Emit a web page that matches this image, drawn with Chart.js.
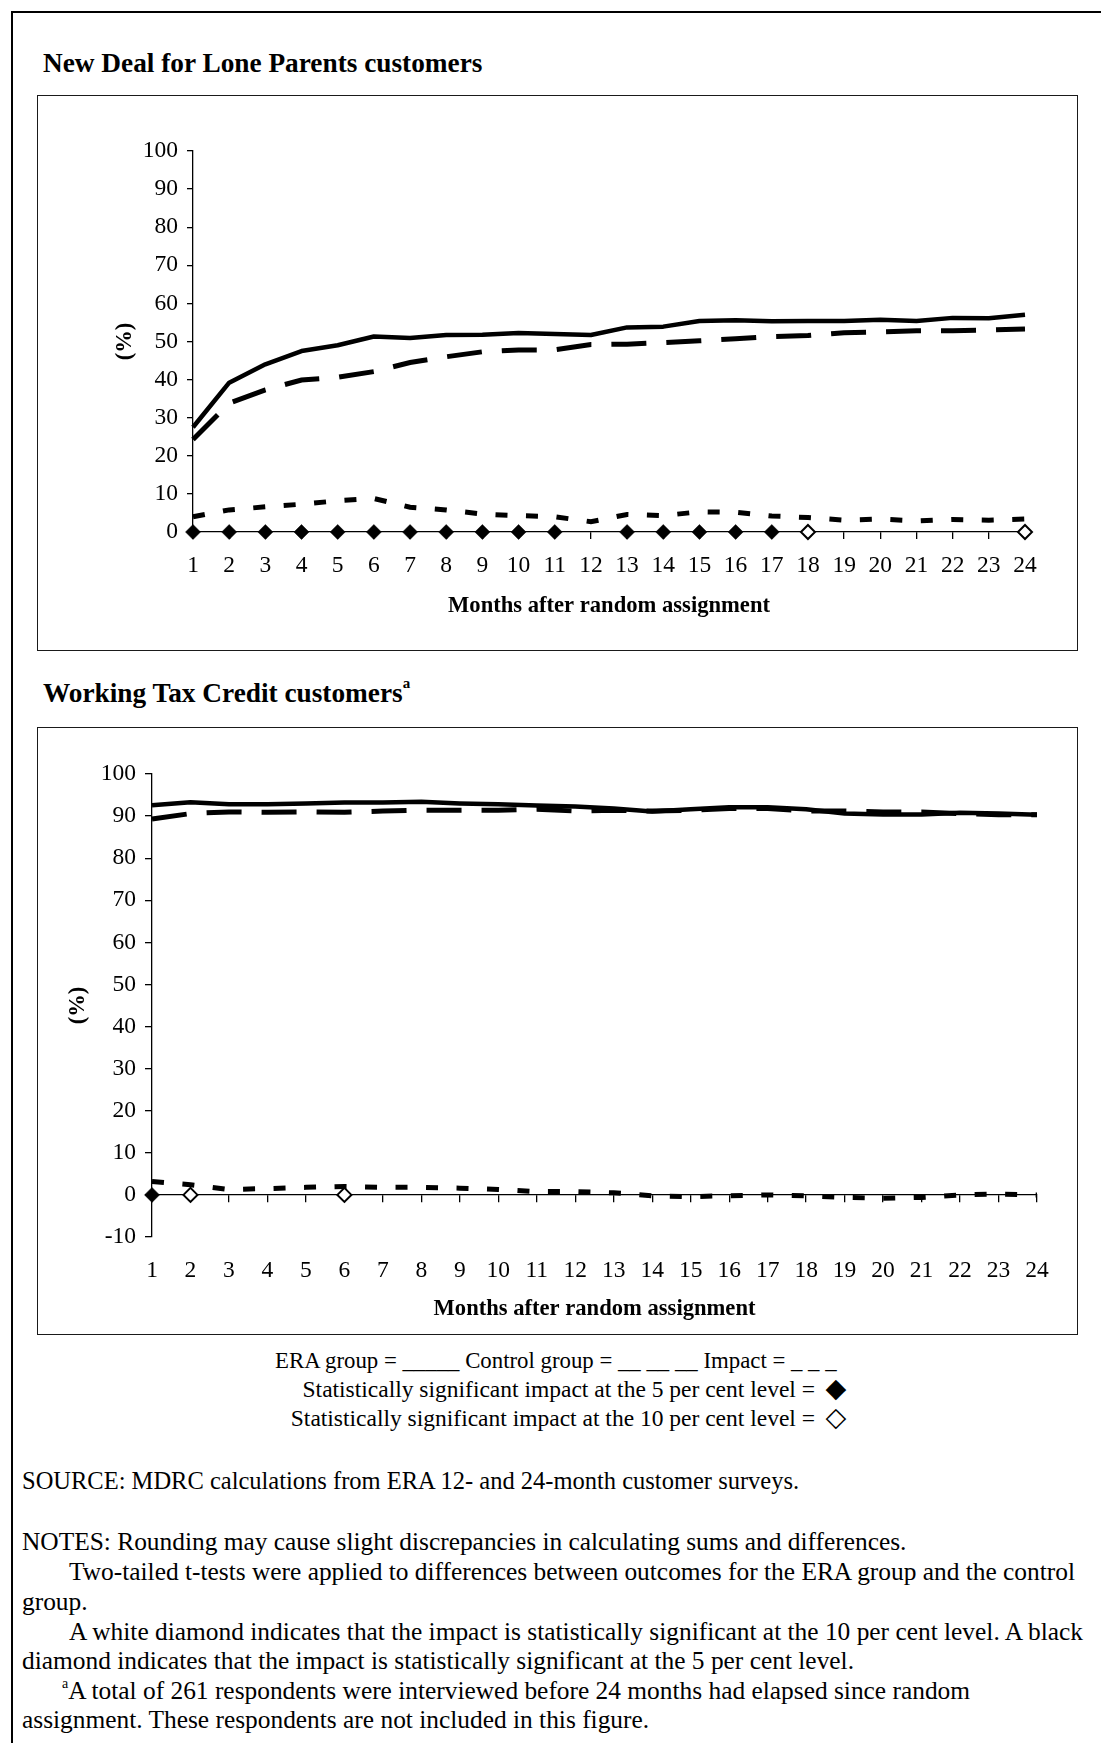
<!DOCTYPE html>
<html>
<head>
<meta charset="utf-8">
<title>ERA employment outcomes</title>
<script src="https://cdn.jsdelivr.net/npm/chart.js@4.4.1/dist/chart.umd.min.js"></script>
<style>
  html, body { margin: 0; padding: 0; background: #fff; }
  body {
    width: 1101px; height: 1743px; position: relative; overflow: hidden;
    font-family: "Liberation Serif", "Times New Roman", serif; color: #000;
  }
  .abs { position: absolute; white-space: nowrap; line-height: 1; }
  #frame { position: absolute; left: 11px; top: 11px; width: 1200px; height: 1900px; border: 2px solid #000; }
  .panel { position: absolute; box-sizing: border-box; border: 1.5px solid #1a1a1a; }
  .title { font-weight: bold; font-size: 27.3px; }
  .title sup { font-size: 15px; position: relative; top: -4px; vertical-align: top; }
  .legend { font-size: 23.5px; }
  .mark { font-family: "DejaVu Sans", sans-serif; font-size: 27px; transform: translateX(-50%); }
  .note { font-size: 25.4px; }
  .note.src { font-size: 24.5px; }
  .note sup { font-size: 14px; vertical-align: top; position: relative; top: -1px; }
  canvas { position: absolute; }
</style>
</head>
<body>
<div id="frame"></div>

<div class="abs title" style="left:43px; top:50px;">New Deal for Lone Parents customers</div>
<div class="panel" style="left:37px; top:95px; width:1041px; height:556px;"></div>
<canvas id="ndlp" width="1037" height="552" style="left:39px; top:97px; width:1037px; height:552px;"></canvas>

<div class="abs title" style="left:43px; top:680px;">Working Tax Credit customers<sup>a</sup></div>
<div class="panel" style="left:37px; top:727px; width:1041px; height:608px;"></div>
<canvas id="wtc" width="1037" height="604" style="left:39px; top:729px; width:1037px; height:604px;"></canvas>

<div class="abs legend" style="left:275px; top:1350px; font-size:22.8px;">ERA group = _____ Control group = __ __ __ Impact = _ _ _</div>
<div class="abs legend" style="right:286px; top:1378px;">Statistically significant impact at the 5 per cent level =</div>
<div class="abs mark" style="left:836px; top:1374px;">&#9670;</div>
<div class="abs legend" style="right:286px; top:1407px;">Statistically significant impact at the 10 per cent level =</div>
<div class="abs mark" style="left:836px; top:1403px;">&#9671;</div>

<div class="abs note src" style="left:22px; top:1469px;">SOURCE: MDRC calculations from ERA 12- and 24-month customer surveys.</div>
<div class="abs note" style="left:22px; top:1529px;">NOTES: Rounding may cause slight discrepancies in calculating sums and differences.</div>
<div class="abs note" style="left:69px; top:1559px;">Two-tailed t-tests were applied to differences between outcomes for the ERA group and the control</div>
<div class="abs note" style="left:22px; top:1589px;">group.</div>
<div class="abs note" style="left:69px; top:1619px;">A white diamond indicates that the impact is statistically significant at the 10 per cent level. A black</div>
<div class="abs note" style="left:22px; top:1648px;">diamond indicates that the impact is statistically significant at the 5 per cent level.</div>
<div class="abs note" style="left:62px; top:1678px;"><sup>a</sup>A total of 261 respondents were interviewed before 24 months had elapsed since random</div>
<div class="abs note" style="left:22px; top:1707px;">assignment. These respondents are not included in this figure.</div>

<script>
// Months after random assignment
const months = ['1','2','3','4','5','6','7','8','9','10','11','12',
                '13','14','15','16','17','18','19','20','21','22','23','24'];

// New Deal for Lone Parents customers (%)
const ndlpEra     = [27.5, 39.2, 44.0, 47.5, 49.0, 51.3, 50.9, 51.7, 51.8, 52.2, 52.0, 51.7,
                     53.7, 53.9, 55.4, 55.6, 55.3, 55.4, 55.4, 55.7, 55.4, 56.2, 56.1, 57.0];
const ndlpControl = [24.3, 33.8, 37.3, 39.9, 40.6, 42.1, 44.5, 46.0, 47.3, 47.8, 47.8, 49.2,
                     49.3, 49.7, 50.2, 50.7, 51.3, 51.6, 52.3, 52.5, 52.8, 52.8, 53.0, 53.3];
const ndlpImpact  = [4.0, 5.8, 6.6, 7.3, 8.2, 8.8, 6.5, 5.8, 4.7, 4.3, 4.0, 2.7,
                     4.6, 4.3, 5.3, 5.2, 4.2, 3.8, 3.1, 3.4, 2.9, 3.3, 3.1, 3.4];
const ndlpSig5Months  = [1, 2, 3, 4, 5, 6, 7, 8, 9, 10, 11, 13, 14, 15, 16, 17];
const ndlpSig10Months = [18, 24];

// Working Tax Credit customers (%)
const wtcEra     = [92.6, 93.3, 92.8, 92.8, 93.0, 93.2, 93.2, 93.4, 93.0, 92.8, 92.5, 92.3,
                    91.8, 91.1, 91.6, 92.1, 92.1, 91.6, 90.6, 90.4, 90.4, 90.8, 90.6, 90.3];
const wtcControl = [89.3, 90.6, 91.0, 90.9, 91.0, 90.9, 91.2, 91.4, 91.4, 91.4, 91.6, 91.2,
                    91.4, 91.2, 91.4, 91.8, 91.8, 91.2, 91.2, 91.0, 91.0, 90.6, 90.3, 90.3];
const wtcImpact  = [3.2, 2.4, 1.3, 1.5, 1.8, 2.0, 1.8, 1.8, 1.6, 1.3, 0.8, 0.8,
                    0.5, -0.2, -0.4, -0.2, 0.0, -0.2, -0.6, -0.8, -0.6, 0.0, 0.2, 0.0];
const wtcSig5Months  = [1];
const wtcSig10Months = [2, 6];

const serif = "'Liberation Serif', 'Times New Roman', serif";
const tickFont  = { family: serif, size: 23.5 };
const titleFont = { family: serif, size: 22.6, weight: 'bold' };

// Significance diamonds sit on the zero line of the impact series
function markers(list) {
  return months.map(m => list.includes(Number(m)) ? 0 : null);
}

function seriesSets(era, control, impact, sig5, sig10) {
  return [
    { label: 'Significant at 5%', data: markers(sig5), showLine: false, clip: false,
      pointStyle: 'rectRot', pointRadius: 7.5, pointBackgroundColor: '#000',
      pointBorderColor: '#000', pointBorderWidth: 0.5 },
    { label: 'Significant at 10%', data: markers(sig10), showLine: false, clip: false,
      pointStyle: 'rectRot', pointRadius: 7, pointBackgroundColor: '#fff',
      pointBorderColor: '#000', pointBorderWidth: 2 },
    { label: 'ERA group', data: era, borderColor: '#000', borderWidth: 4.5,
      borderJoinStyle: 'round', pointRadius: 0, clip: false },
    { label: 'Control group', data: control, borderColor: '#000', borderWidth: 5,
      borderDash: [35, 20], pointRadius: 0, clip: false },
    { label: 'Impact', data: impact, borderColor: '#000', borderWidth: 5,
      borderDash: [12, 18.5], pointRadius: 0, clip: false }
  ];
}

const axisLine = { color: '#000', width: 1.3 };
const commonPlugins = { legend: { display: false }, tooltip: { enabled: false } };

// Panel 1: x axis along the bottom (0 %)
new Chart(document.getElementById('ndlp'), {
  type: 'line',
  data: { labels: months,
          datasets: seriesSets(ndlpEra, ndlpControl, ndlpImpact, ndlpSig5Months, ndlpSig10Months) },
  options: {
    responsive: false, animation: false, devicePixelRatio: 1,
    layout: { padding: { left: 70, right: 51, top: 54, bottom: 26 } },
    plugins: commonPlugins,
    scales: {
      x: {
        type: 'category', offset: false, position: 'bottom',
        grid: { drawOnChartArea: false, drawTicks: true, tickLength: 7, color: '#000', lineWidth: 1.3 },
        border: axisLine,
        ticks: { color: '#000', font: tickFont, padding: 13, maxRotation: 0, autoSkip: false },
        title: { display: true, text: 'Months after random assignment', color: '#000',
                 font: titleFont, padding: { top: 0, bottom: 3 } },
        afterFit: s => { s.height = 91; }
      },
      y: {
        min: 0, max: 100,
        grid: { drawOnChartArea: false, drawTicks: true, tickLength: 6, color: '#000', lineWidth: 1.3 },
        border: axisLine,
        ticks: { stepSize: 10, color: '#000', font: tickFont, padding: 9 },
        title: { display: true, text: '(%)', color: '#000', font: titleFont,
                 padding: { top: 2.4, bottom: 0 } },
        afterFit: s => { s.width = 84; }
      }
    }
  }
});

// Panel 2: axis line crosses at 0 %, month labels below the plot
new Chart(document.getElementById('wtc'), {
  type: 'line',
  data: { labels: months,
          datasets: seriesSets(wtcEra, wtcControl, wtcImpact, wtcSig5Months, wtcSig10Months) },
  options: {
    responsive: false, animation: false, devicePixelRatio: 1,
    layout: { padding: { left: 22, right: 39, top: 45, bottom: 7 } },
    plugins: commonPlugins,
    scales: {
      x: {
        type: 'category', offset: false, position: { y: 0 },
        grid: { drawOnChartArea: false, drawTicks: true, tickLength: 7, color: '#000', lineWidth: 1.3 },
        border: axisLine,
        ticks: { display: false }
      },
      xb: {
        type: 'category', offset: false, position: 'bottom',
        grid: { display: false, drawTicks: false, tickLength: 0 },
        border: { display: false },
        ticks: { color: '#000', font: tickFont, padding: 20, maxRotation: 0, autoSkip: false },
        title: { display: true, text: 'Months after random assignment', color: '#000',
                 font: titleFont, padding: { top: 0, bottom: 3 } },
        afterFit: s => { s.height = 89; }
      },
      y: {
        min: -10, max: 100,
        grid: { drawOnChartArea: false, drawTicks: true, tickLength: 7, color: '#000', lineWidth: 1.3 },
        border: axisLine,
        ticks: { stepSize: 10, color: '#000', font: tickFont, padding: 9 },
        title: { display: true, text: '(%)', color: '#000', font: titleFont,
                 padding: { top: 3.4, bottom: 0 } },
        afterFit: s => { s.width = 91; }
      }
    }
  }
});
</script>
</body>
</html>
